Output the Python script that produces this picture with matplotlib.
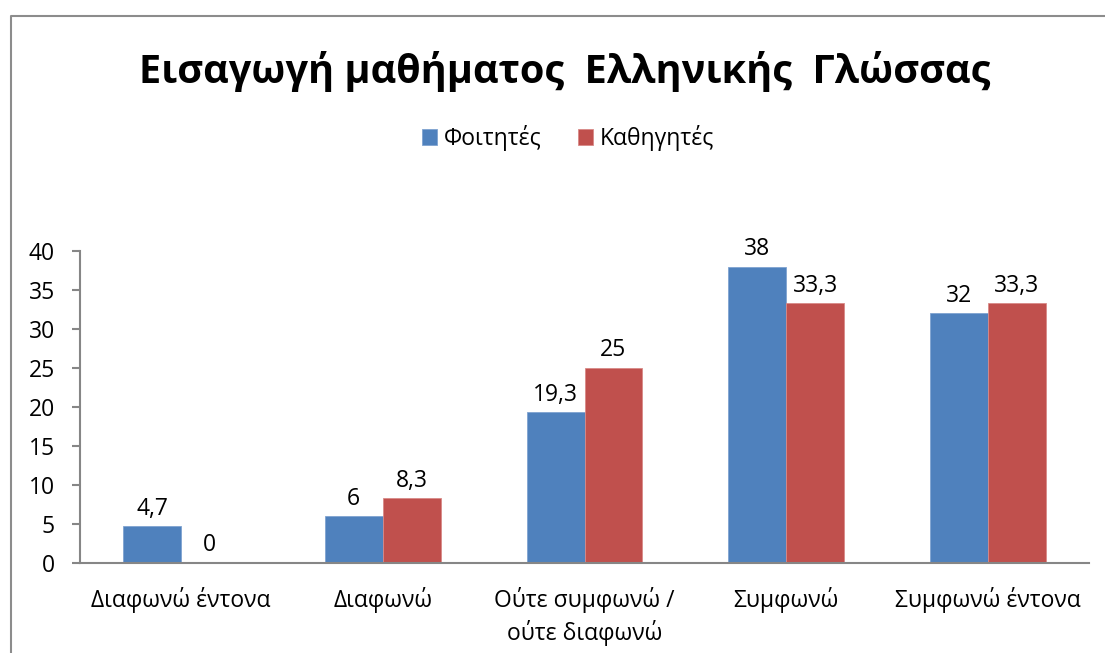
import matplotlib.pyplot as plt
from matplotlib.lines import Line2D
import numpy as np

plt.rcParams['font.family'] = ['Open Sans', 'DejaVu Sans']

categories = ['Διαφωνώ έντονα', 'Διαφωνώ', 'Ούτε συμφωνώ /\nούτε διαφωνώ', 'Συμφωνώ', 'Συμφωνώ έντονα']
foitites = [4.7, 6, 19.3, 38, 32]
kathigites = [0, 8.3, 25, 33.3, 33.3]
series_names = ['Φοιτητές', 'Καθηγητές']
title = 'Εισαγωγή μαθήματος  Ελληνικής  Γλώσσας'

W, H = 1105, 653
fig = plt.figure(figsize=(W / 100, H / 100), dpi=100)
ax = fig.add_axes([80 / W, (H - 563) / H, 1009 / W, 312 / H])

x = np.arange(len(categories))
bw = 0.287
b1 = ax.bar(x - bw / 2, foitites, bw, color='#4F81BD', edgecolor='#7FA3D0', linewidth=0.6, label=series_names[0])
b2 = ax.bar(x + bw / 2, kathigites, bw, color='#C0504D', edgecolor='#D88A88', linewidth=0.6, label=series_names[1])

def fmt(v):
    return ('%g' % v).replace('.', ',')

for bars, vals in ((b1, foitites), (b2, kathigites)):
    for rect, v in zip(bars, vals):
        ax.annotate(fmt(v), (rect.get_x() + rect.get_width() / 2, v),
                    xytext=(0, 4), textcoords='offset points',
                    ha='center', va='bottom', fontsize=16.5)

ax.set_xlim(-0.5, len(categories) - 0.5)
ax.set_ylim(0, 40)
ax.set_yticks(range(0, 41, 5))
ax.set_xticks(x)
ax.set_xticklabels(categories, fontsize=16.5, linespacing=1.35)
ax.tick_params(axis='x', length=0, pad=17)
ax.tick_params(axis='y', labelsize=16.5, length=6, width=1.5, color='#868686', pad=12)

for s in ('top', 'right'):
    ax.spines[s].set_visible(False)
for s in ('left', 'bottom'):
    ax.spines[s].set_color('#868686')
    ax.spines[s].set_linewidth(1.5)

fig.text(565 / W, 1 - 71 / H, title, ha='center', va='center', fontsize=28.5, fontweight='bold')
fig.legend(handles=[b1, b2], loc='center', bbox_to_anchor=(568 / W, 1 - 138 / H),
           ncol=2, frameon=False, fontsize=16.5, handlelength=0.65, handleheight=0.65,
           handletextpad=0.3, columnspacing=1.6)

# chart frame (left and top edges)
fig.add_artist(Line2D([11 / W, 11 / W, 1], [0, 1 - 16 / H, 1 - 16 / H],
                      color='#8C8C8C', linewidth=1.5, transform=fig.transFigure))

fig.savefig('out.png', dpi=100)
